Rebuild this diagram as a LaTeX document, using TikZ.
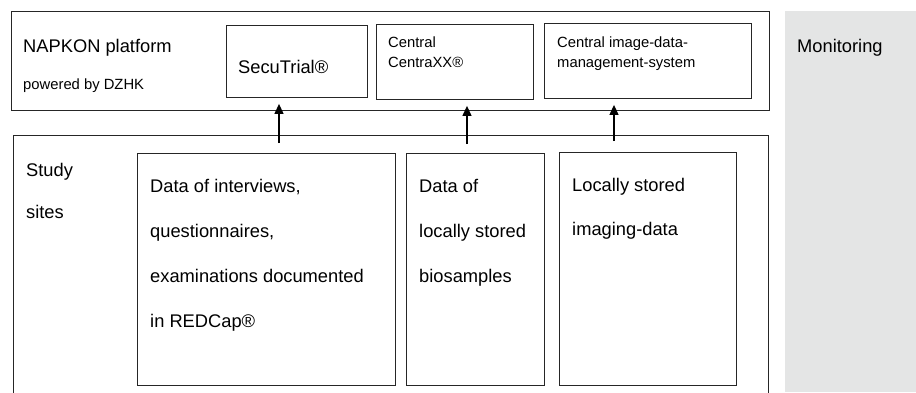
\documentclass[tikz,border=0pt]{standalone}
\usepackage{fontspec}
\setmainfont{Liberation Sans}
\usetikzlibrary{arrows.meta}
\definecolor{monigrey}{HTML}{E4E5E5}
\begin{document}
\begin{tikzpicture}[x=1pt,y=-1pt,
  frame/.style={draw=black!85, line width=0.9pt, inner sep=0pt, anchor=north west},
  big/.style={font=\fontsize{18.3}{22}\selectfont, inner sep=0pt, anchor=base west},
  small/.style={font=\fontsize{14.8}{18}\selectfont, inner sep=0pt, anchor=base west},
  uparrow/.style={draw=black, line width=1.2pt, -{Triangle[length=10pt,width=9pt]}, shorten >=6pt}]
\useasboundingbox (0,0) rectangle (916,392);
\clip (0,0) rectangle (916,392);
% monitoring column
\fill[monigrey] (785,11) rectangle (916,392);
\node[big] (moni) at (797,52) {Monitoring};
% platform
\node[frame, minimum width=758pt, minimum height=99pt] (plat) at (11,11) {};
\node[big] (napkon) at (23,52) {NAPKON platform};
\node[small] (dzhk) at (23,89) {powered by DZHK};
\node[frame, minimum width=141pt, minimum height=72pt] (secu) at (226,25) {};
\node[big] (secutxt) at (238,73) {SecuTrial®};
\node[frame, minimum width=157pt, minimum height=75pt] (centra) at (376,24) {};
\node[small] (cen1) at (388,47) {Central};
\node[small] (cen2) at (388,67) {CentraXX®};
\node[frame, minimum width=207pt, minimum height=75pt] (img) at (544,23) {};
\node[small] (img1) at (557,47) {Central image-data-};
\node[small] (img2) at (557,67) {management-system};
% study sites
\node[frame, minimum width=755pt, minimum height=290pt] (study) at (13,135) {};
\node[big] (st1) at (26,176) {Study};
\node[big] (st2) at (26,218) {sites};
\node[frame, minimum width=258pt, minimum height=232pt] (redcap) at (137,153) {};
\node[big] (r1) at (150,192) {Data of interviews,};
\node[big] (r2) at (150,237) {questionnaires,};
\node[big] (r3) at (150,282) {examinations documented};
\node[big] (r4) at (150,327) {in REDCap®};
\node[frame, minimum width=138pt, minimum height=232pt] (bio) at (406,153) {};
\node[big] (b1) at (419,192) {Data of};
\node[big] (b2) at (419,237) {locally stored};
\node[big] (b3) at (419,282) {biosamples};
\node[frame, minimum width=177pt, minimum height=233pt] (imaging) at (559,152) {};
\node[big] (i1) at (572,191) {Locally stored};
\node[big] (i2) at (572,235) {imaging-data};
% arrows
\coordinate (a1) at (279,143);
\coordinate (a2) at (467,144);
\coordinate (a3) at (614,141);
\draw[uparrow] (a1) -- (a1 |- secu.south);
\draw[uparrow] (a2) -- (a2 |- centra.south);
\draw[uparrow] (a3) -- (a3 |- img.south);
\end{tikzpicture}
\end{document}
